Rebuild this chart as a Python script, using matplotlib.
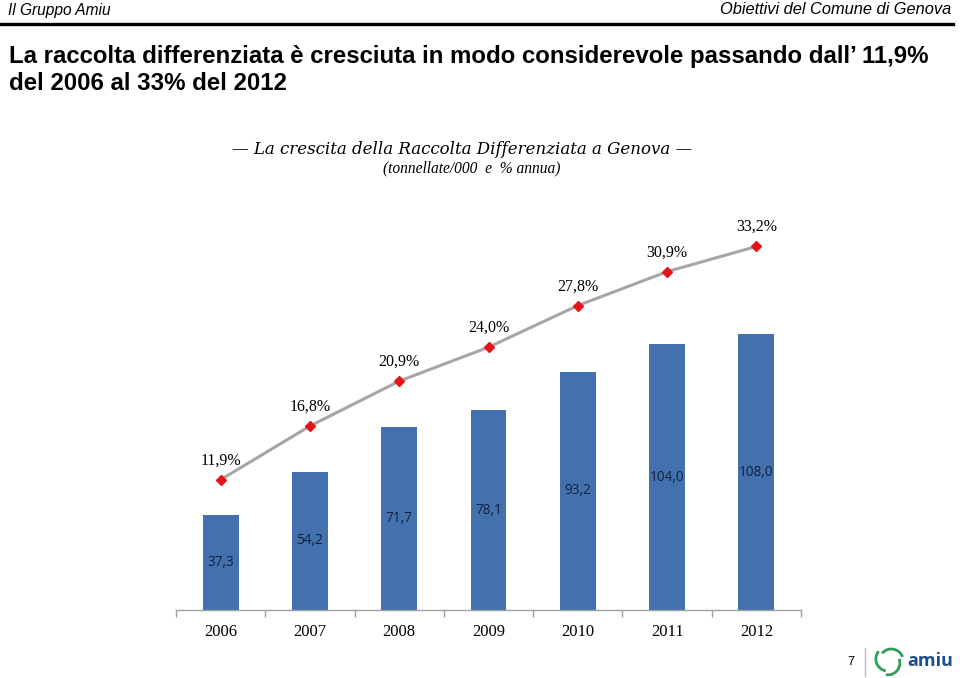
import numpy as np
import matplotlib.pyplot as plt
from matplotlib.patches import Arc

years = ['2006', '2007', '2008', '2009', '2010', '2011', '2012']
tonnes = [37.3, 54.2, 71.7, 78.1, 93.2, 104.0, 108.0]   # tonnellate/000
percent = [11.9, 16.8, 20.9, 24.0, 27.8, 30.9, 33.2]    # % annua

bar_color = '#4271AE'
line_color = '#A6A6A6'
marker_color = '#E3151A'

fig = plt.figure(figsize=(9.6, 6.78), dpi=100)
W, H = 960, 678

def fx(px):
    return px / W

def fy(py):
    return 1 - py / H

# header
fig.text(fx(8), fy(10), 'Il Gruppo Amiu', family='Liberation Sans', style='italic',
         fontsize=11.2, va='center', ha='left')
fig.text(fx(951), fy(10), 'Obiettivi del Comune di Genova', family='Liberation Sans',
         style='italic', fontsize=11.8, va='center', ha='right')
fig.add_artist(plt.Line2D([0, fx(953)], [fy(24), fy(24)], color='black', lw=2.4))

# title
title_font = ['Liberation Sans Narrow', 'Liberation Sans']
fig.text(fx(9), fy(56), "La raccolta differenziata è cresciuta in modo considerevole passando dall’ 11,9%",
         family=title_font, weight='bold', fontsize=17.3, va='center', ha='left')
fig.text(fx(9), fy(84), 'del 2006 al 33% del 2012',
         family=title_font, weight='bold', fontsize=17.3, va='center', ha='left')

# chart subtitle
fig.text(fx(462), fy(149), '— La crescita della Raccolta Differenziata a Genova —',
         family='DejaVu Serif', style='italic', fontsize=12, va='center', ha='center')
fig.text(fx(472), fy(168), '(tonnellate/000  e  % annua)',
         family='Liberation Serif', style='italic', fontsize=11.2, va='center', ha='center')

# plot area
top_px, base_px = 215, 610
ax = fig.add_axes([fx(176), fy(base_px), fx(801) - fx(176), (base_px - top_px) / H])
x = np.arange(len(years))
ax.bar(x, tonnes, width=0.4, color=bar_color, zorder=2)
ax.set_xlim(-0.5, len(years) - 0.5)
ax.set_ylim(0, (base_px - top_px) / 2.555)
for s in ['top', 'right', 'left']:
    ax.spines[s].set_visible(False)
ax.spines['bottom'].set_color('#A0A0A0')
ax.spines['bottom'].set_linewidth(1.0)
ax.set_yticks([])
ax.set_xticks(np.arange(len(years) + 1) - 0.5, minor=True)
ax.set_xticks(x)
ax.set_xticklabels(years, family='Liberation Serif', fontsize=12)
ax.tick_params(axis='x', which='major', length=0, pad=10)
ax.tick_params(axis='x', which='minor', length=5, color='#A0A0A0', width=1)
for xi, v in zip(x, tonnes):
    ax.text(xi, v / 2, f'{v:.1f}'.replace('.', ','), ha='center', va='center',
            family='Open Sans', fontsize=9.8, color='#14213D', zorder=3)

ax2 = ax.twinx()
ax2.set_ylim(0, (base_px - top_px) / 10.95)
ax2.plot(x, percent, color=line_color, lw=2.2, zorder=3)
ax2.plot(x, percent, ls='none', marker='D', ms=5, color=marker_color, zorder=4)
for xi, p in zip(x, percent):
    ax2.annotate(f'{p:.1f}%'.replace('.', ','), (xi, p), xytext=(0, 14), textcoords='offset points',
                 ha='center', va='center', family='Liberation Serif', fontsize=11.5)
ax2.axis('off')

# footer: page number and logo
fig.text(fx(851), fy(662), '7', family='Liberation Sans', fontsize=9, va='center', ha='center')
fig.add_artist(plt.Line2D([fx(865), fx(865)], [fy(648), fy(676)], color='#BBBBBB', lw=1))
lax = fig.add_axes([fx(872), fy(676), fx(34), 30 / H])
lax.set_xlim(-1, 1)
lax.set_ylim(-1, 1)
lax.set_aspect('equal')
lax.axis('off')
for ang in [0, 120, 240]:
    lax.add_patch(Arc((0.15 * np.cos(np.radians(ang)), 0.15 * np.sin(np.radians(ang))),
                      1.6, 1.6, theta1=ang + 20, theta2=ang + 140, color='#2E9E5B', lw=2))
fig.text(fx(907), fy(661), 'amiu', family='Open Sans', weight='bold', fontsize=13,
         color='#1F4E8C', va='center', ha='left')

fig.savefig('out.png', dpi=100)
